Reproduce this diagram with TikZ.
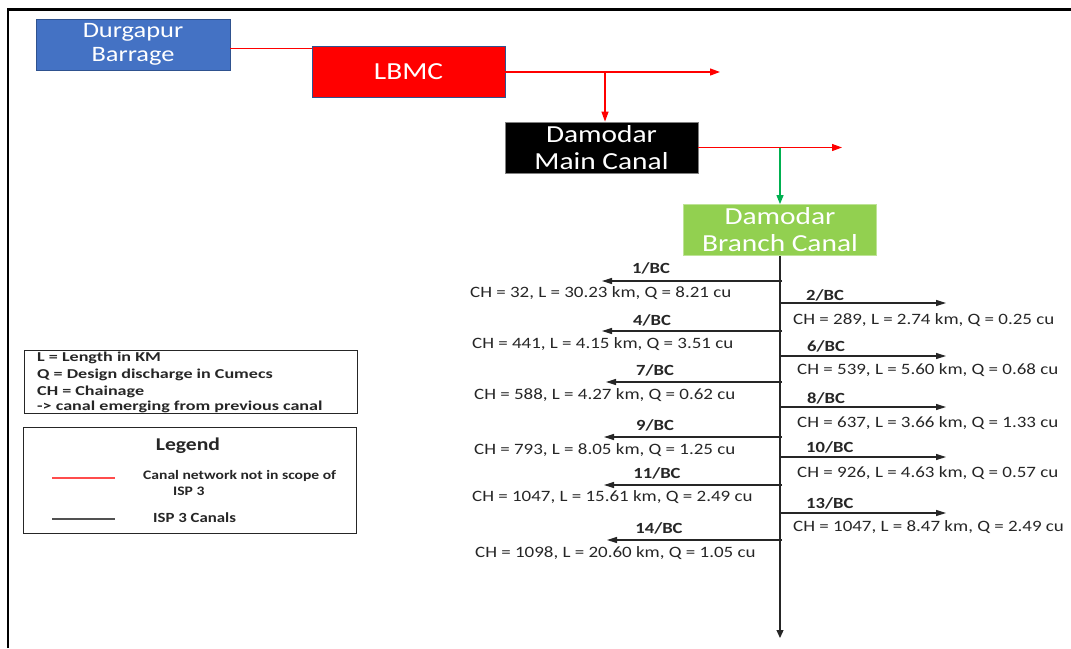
\documentclass[tikz,border=0pt]{standalone}
\usepackage{fontspec}
\setmainfont{Carlito}[FakeStretch=1.2]
\newfontfamily\widenotefont{Carlito}[FakeStretch=1.33]
\usetikzlibrary{arrows.meta}
\definecolor{boxblue}{HTML}{4472C4}
\definecolor{boxborder}{HTML}{2F528F}
\definecolor{canalred}{HTML}{FF0000}
\definecolor{branchgreen}{HTML}{92D050}
\definecolor{linkgreen}{HTML}{00B050}
\definecolor{inktext}{HTML}{262626}

\begin{document}
\begin{tikzpicture}[x=1pt,y=-1pt,
  unit/.style={draw=boxborder, line width=0.8pt, minimum width=193pt, minimum height=51pt,
    inner sep=0pt, text=white, align=center, font=\fontsize{24.5}{27}\selectfont},
  outside/.style={draw=canalred, line width=1.2pt},
  isp/.style={draw=inktext, line width=1.2pt},
  redtip/.style={-{Triangle[length=10pt,width=7pt]}},
  blacktip/.style={-{Triangle[length=10pt,width=6pt]}},
  tag/.style={font=\bfseries\fontsize{15.5}{16}\selectfont, text=inktext, inner sep=0pt},
  info/.style={font=\fontsize{15.8}{16}\selectfont, text=inktext, inner sep=0pt, anchor=west},
  noteline/.style={font=\widenotefont\bfseries\fontsize{13.6}{16}\selectfont, text=inktext, inner sep=0pt, anchor=base west},
  keytext/.style={font=\bfseries\fontsize{13}{16}\selectfont, text=inktext, inner sep=0pt, anchor=west, align=left},
  ]
\useasboundingbox (0,0) rectangle (1071,648);

% page frame (open at right and bottom)
\draw[line width=2.5pt, line join=miter] (8,648) -- (8,9.5) -- (1071,9.5);

% canal units
\node[unit, fill=boxblue, font=\fontsize{22}{24}\selectfont, minimum width=194pt] (dur) at (133,44.5) {Durgapur\\Barrage};
\node[unit, fill=canalred] (lbmc) at (408.5,72) {LBMC};
\node[unit, fill=black, draw=gray] (dmc) at (601.5,147.5) {Damodar\\Main Canal};
\node[unit, fill=branchgreen, draw=branchgreen!60!white] (dbc) at (780,230) {Damodar\\Branch Canal};

% feeder links outside the ISP 3 scope
\draw[outside] ([yshift=-4pt]dur.east) -- ([yshift=-4pt]dur.east -| lbmc.west);
\coordinate (lbmcend) at (720,72);
\coordinate (lbmcfork) at (605,72);
\draw[outside, redtip] (lbmc.east) -- (lbmcend);
\draw[outside, redtip] (lbmcfork) -- (lbmcfork |- dmc.north);
\coordinate (dmcend) at (842,147.5);
\coordinate (dmcfork) at (780,147.5);
\draw[outside, redtip] (dmc.east) -- (dmcend);
\draw[draw=linkgreen, line width=1.2pt, -{Triangle[length=9pt,width=7pt]}] (dmcfork) -- (dbc.north);

% branch canal trunk
\coordinate (trunkend) at (780,638);
\draw[isp, -{Triangle[length=8pt,width=7pt]}] (dbc.south) -- (trunkend);

% off-takes to the left
\foreach \nm/\ay/\tx/\lx/\ly/\cx/\cy/\ch in {
  1/281/602/651/268/470/293/{CH = 32, L = 30.23 km, Q = 8.21 cu},
  4/331/602/652/320/472/344/{CH = 441, L = 4.15 km, Q = 3.51 cu},
  7/382/606/655/370/474/395/{CH = 588, L = 4.27 km, Q = 0.62 cu},
  9/437/604/655/425/474/450/{CH = 793, L = 8.05 km, Q = 1.25 cu},
  11/485/604/657/473/472/497/{CH = 1047, L = 15.61 km, Q = 2.49 cu},
  14/540/607/659/528/475/553/{CH = 1098, L = 20.60 km, Q = 1.05 cu}}{
  \coordinate (root\nm) at (782,\ay);
  \coordinate (tip\nm) at (\tx,\ay);
  \draw[isp, blacktip] (root\nm) -- (tip\nm);
  \node[tag] (lab\nm) at (\lx,\ly) {\nm/BC};
  \node[info] (ch\nm) at (\cx,\cy) {\ch};
}

% off-takes to the right
\foreach \nm/\ay/\lx/\ly/\cx/\cy/\ch in {
  2/303/806/295/793/320/{CH = 289, L = 2.74 km, Q = 0.25 cu},
  6/356/807/346/797/370/{CH = 539, L = 5.60 km, Q = 0.68 cu},
  8/407/807/398/797/423/{CH = 637, L = 3.66 km, Q = 1.33 cu},
  10/457/806/447/797/473/{CH = 926, L = 4.63 km, Q = 0.57 cu},
  13/513/806/503/793/527/{CH = 1047, L = 8.47 km, Q = 2.49 cu}}{
  \coordinate (root\nm) at (780,\ay);
  \coordinate (tip\nm) at (946,\ay);
  \draw[isp, blacktip] (root\nm) -- (tip\nm);
  \node[tag, anchor=west] (lab\nm) at (\lx,\ly) {\nm/BC};
  \node[info] (ch\nm) at (\cx,\cy) {\ch};
}

% abbreviations
\node[draw=inktext, line width=0.8pt, minimum width=333pt, minimum height=63pt] (notes) at (190.5,381.5) {};
\node[noteline] (noteL) at (37,361.5) {L = Length in KM};
\node[noteline] (noteQ) at (37,378) {Q = Design discharge in Cumecs};
\node[noteline] (noteCH) at (37,395) {CH = Chainage};
\node[noteline] (noteArrow) at (37,410.5) {-> canal emerging from previous canal};

% legend
\node[draw=inktext, line width=0.8pt, minimum width=333pt, minimum height=106pt] (legend) at (189.5,480) {};
\node[font=\bfseries\fontsize{18}{20}\selectfont, text=inktext, inner sep=0pt] (legtitle) at (188,446) {Legend};
\coordinate (redA) at (52,478);
\coordinate (redB) at (115,478);
\draw[draw=canalred!70!white, line width=1.2pt] (redA) -- (redB);
\node[keytext] (redkey) at (143,483) {Canal network not in scope of\\\hspace*{30pt}ISP 3};
\coordinate (blackA) at (52,519);
\coordinate (blackB) at (115,519);
\draw[draw=inktext!80!white, line width=1.2pt] (blackA) -- (blackB);
\node[keytext, font=\bfseries\fontsize{14}{16}\selectfont] (blackkey) at (153,518) {ISP 3 Canals};
\end{tikzpicture}
\end{document}
